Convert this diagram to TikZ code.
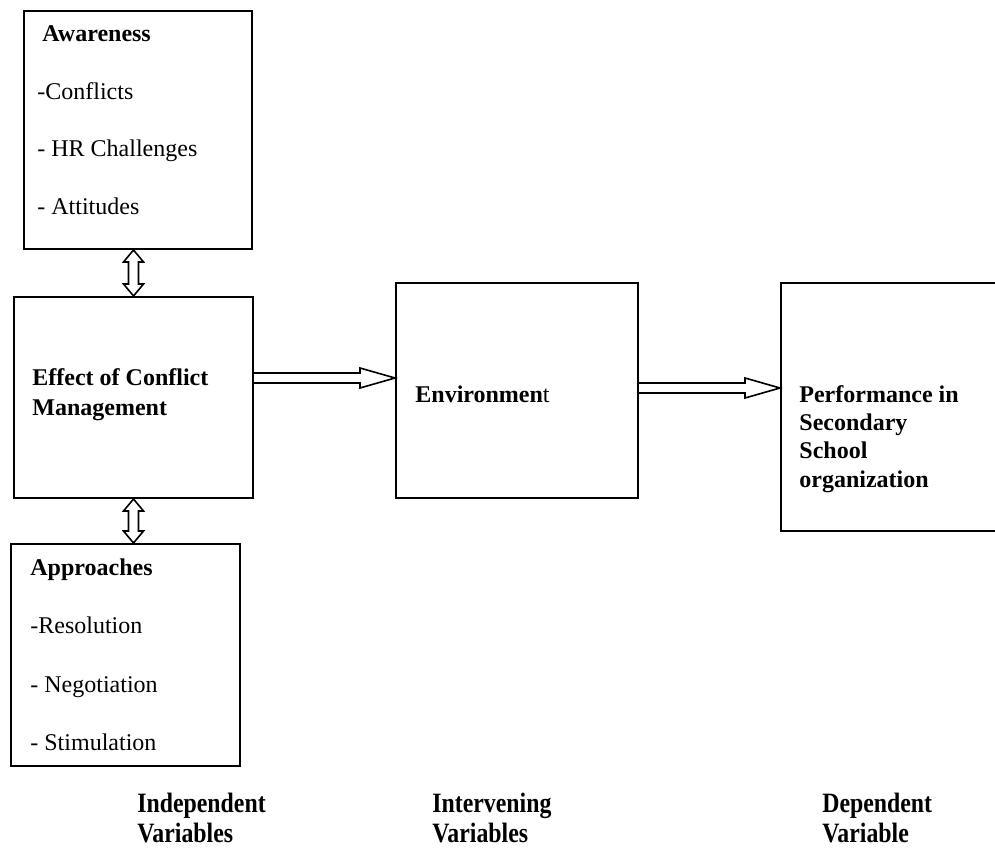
\documentclass[tikz,border=0pt]{standalone}
\usepackage{fontspec}
\setmainfont{Liberation Serif}
\newfontfamily\condserif[FakeStretch=0.85]{Liberation Serif}
\usepackage{tikz}
\usetikzlibrary{calc}
\tikzset{box/.style={draw, line width=1pt, inner sep=0pt, anchor=north west}}
\tikzset{txt/.style={anchor=base west, inner sep=0pt, font=\fontsize{12}{14}\selectfont}}
\tikzset{btxt/.style={txt, font=\fontsize{12}{14}\selectfont\bfseries}}
\tikzset{varlabel/.style={anchor=base west, inner sep=0pt, align=left,
  font=\fontsize{14}{15}\condserif\bfseries}}
\tikzset{hollow/.style={draw, line width=0.8pt, fill=white, line join=miter}}
% hollow arrow pointing right, #1 tail, #2 tip
\newcommand{\rarrow}[2]{\draw[hollow] ($(#1)+(0,-5)$) -- ($(#2)+(-35,-5)$) -- ($(#2)+(-35,-10)$) -- (#2)
  -- ($(#2)+(-35,10)$) -- ($(#2)+(-35,5)$) -- ($(#1)+(0,5)$);}
% hollow double arrow, #1 top tip, #2 bottom tip
\newcommand{\udarrow}[2]{\draw[hollow] (#1) -- ($(#1)+(10,12)$) -- ($(#1)+(5,12)$) -- ($(#2)+(5,-12)$)
  -- ($(#2)+(10,-12)$) -- (#2) -- ($(#2)+(-10,-12)$) -- ($(#2)+(-5,-12)$) -- ($(#1)+(-5,12)$)
  -- ($(#1)+(-10,12)$) -- cycle;}

\begin{document}
\begin{tikzpicture}[x=0.5pt, y=-0.5pt]
\useasboundingbox (0,0) rectangle (995,850);

\node[box, minimum width=114pt, minimum height=119pt] (aware) at (23,10) {};
\node[btxt] (awtitle) at (42,42) {Awareness};
\node[txt] (awconf) at (37,100) {-Conflicts};
\node[txt] (awhr) at (37,157) {- HR Challenges};
\node[txt] (awatt) at (37,215) {- Attitudes};

\node[box, minimum width=119.5pt, minimum height=100.5pt] (effect) at (13,296) {};
\node[btxt] (effA) at (32,385) {Effect of Conflict};
\node[btxt] (effB) at (32,415) {Management};

\node[box, minimum width=114.5pt, minimum height=111pt] (appr) at (10,543) {};
\node[btxt] (aptitle) at (30,575) {Approaches};
\node[txt] (apres) at (30,633) {-Resolution};
\node[txt] (apneg) at (30,692) {- Negotiation};
\node[txt] (apsti) at (30,750) {- Stimulation};

\node[box, minimum width=121pt, minimum height=107.5pt] (env) at (395,282) {};
\node[txt] (envtext) at (415,402) {\textbf{Environmen}t};

\node[box, minimum width=115pt, minimum height=124pt] (perf) at (780,282) {};
\node[btxt] (pfA) at (799,402) {Performance in};
\node[btxt] (pfB) at (799,430) {Secondary};
\node[btxt] (pfC) at (799,458) {School};
\node[btxt] (pfD) at (799,487) {organization};

\coordinate (arrA) at (0,378);
\coordinate (arrB) at (0,388);
\rarrow{effect.east |- arrA}{env.west |- arrA}
\rarrow{env.east |- arrB}{perf.west |- arrB}
\udarrow{effect.north |- aware.south}{effect.north}
\udarrow{effect.south}{effect.south |- appr.north}

\node[varlabel] (indep) at (137,842) {Independent\\Variables};
\node[varlabel] (interv) at (432,842) {Intervening\\Variables};
\node[varlabel] (dep) at (822,842) {Dependent\\Variable};

\end{tikzpicture}
\end{document}
